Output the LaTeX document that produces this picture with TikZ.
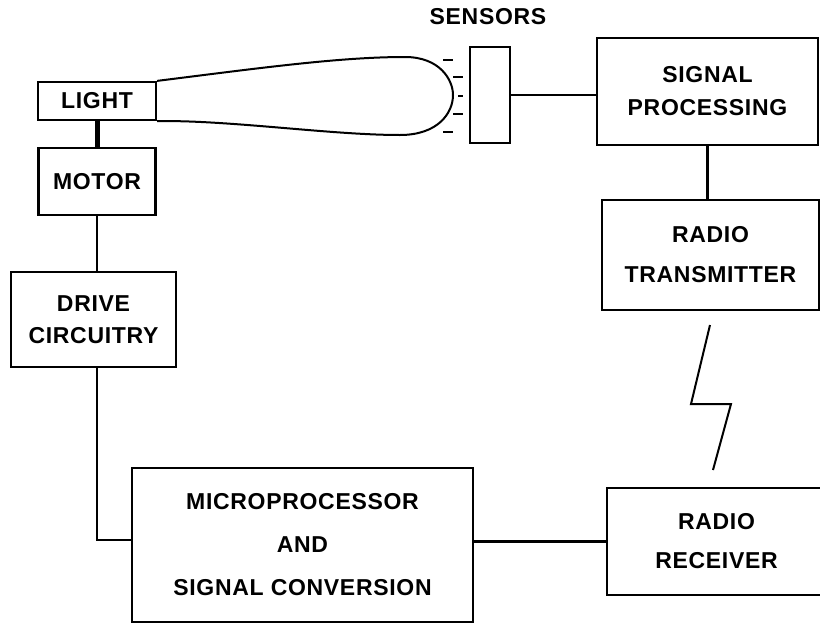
\documentclass[tikz,border=0pt]{standalone}
\usepackage{fontspec}
\setmainfont{Liberation Sans}[LetterSpace=3]
\begin{document}
\begin{tikzpicture}[x=1pt,y=-1pt,
  wire/.style={draw,line width=2.2pt},
  box/.style={draw,line width=2.2pt,align=center,inner sep=0pt,font=\bfseries\fontsize{23}{33}\selectfont},
  lbl/.style={align=center,inner sep=0pt,font=\bfseries\fontsize{23}{33}\selectfont}]
\useasboundingbox (0,0) rectangle (820,624);
\clip (0,0) rectangle (820,624);
% boxes
\node[box,minimum width=118pt,minimum height=38pt] (light) at (97,101) {LIGHT};
\node[box,minimum width=117pt,minimum height=67pt] (motor) at (97,181.5) {MOTOR};
\node[box,minimum width=165pt,minimum height=95pt,font=\bfseries\fontsize{23}{32}\selectfont] (drive) at (93.5,319.5) {DRIVE\\CIRCUITRY};
\node[box,minimum width=341pt,minimum height=154pt,font=\bfseries\fontsize{23}{43}\selectfont] (micro) at (302.5,545) {MICROPROCESSOR\\AND\\SIGNAL CONVERSION};
\node[box,minimum width=40pt,minimum height=96pt] (sensors) at (490,95) {};
\node[lbl] (senslbl) at (488,17) {SENSORS};
\node[box,minimum width=221pt,minimum height=107pt] (sp) at (707.5,91.5) {SIGNAL\\PROCESSING};
\node[box,minimum width=217pt,minimum height=110pt,font=\bfseries\fontsize{23}{40}\selectfont] (rt) at (710.5,255) {RADIO\\TRANSMITTER};
\node[box,minimum width=219pt,minimum height=107pt,font=\bfseries\fontsize{23}{39}\selectfont] (rr) at (716.5,541.5) {RADIO\\RECEIVER};
% connectors
\draw[wire,line width=5pt] (light.south) -- (motor.north);
\draw[wire] (motor.south) -- (motor.south |- drive.north);
\draw[wire] (motor.south |- drive.south) |- ([yshift=5pt]micro.west);
\draw[wire] (micro.east |- rr.west) -- (rr.west);
\draw[wire] (sensors.east) -- (sensors.east -| sp.west);
\draw[wire] (sp.south) -- (sp.south |- rt.north);
% radio link
\coordinate (z1) at (710,325);
\coordinate (z2) at (691,404);
\coordinate (z3) at (731,404);
\coordinate (z4) at (713,470);
\draw[wire,line width=2pt] (z1) -- (z2) -- (z3) -- (z4);
% light beam
\draw[wire,line width=2pt] (light.north east) .. controls (260,68) and (340,57) .. (405,57)
  .. controls (440,57) and (453,80) .. (453,95)
  .. controls (453,113) and (438,135) .. (400,135)
  .. controls (330,135) and (230,120) .. (light.south east);
% rays
\draw[wire] (443,60) -- (453,60);
\draw[wire] (453,77) -- (463,77);
\draw[wire] (458,96) -- (463,96);
\draw[wire] (453,114) -- (463,114);
\draw[wire] (443,132) -- (453,132);
\end{tikzpicture}
\end{document}
